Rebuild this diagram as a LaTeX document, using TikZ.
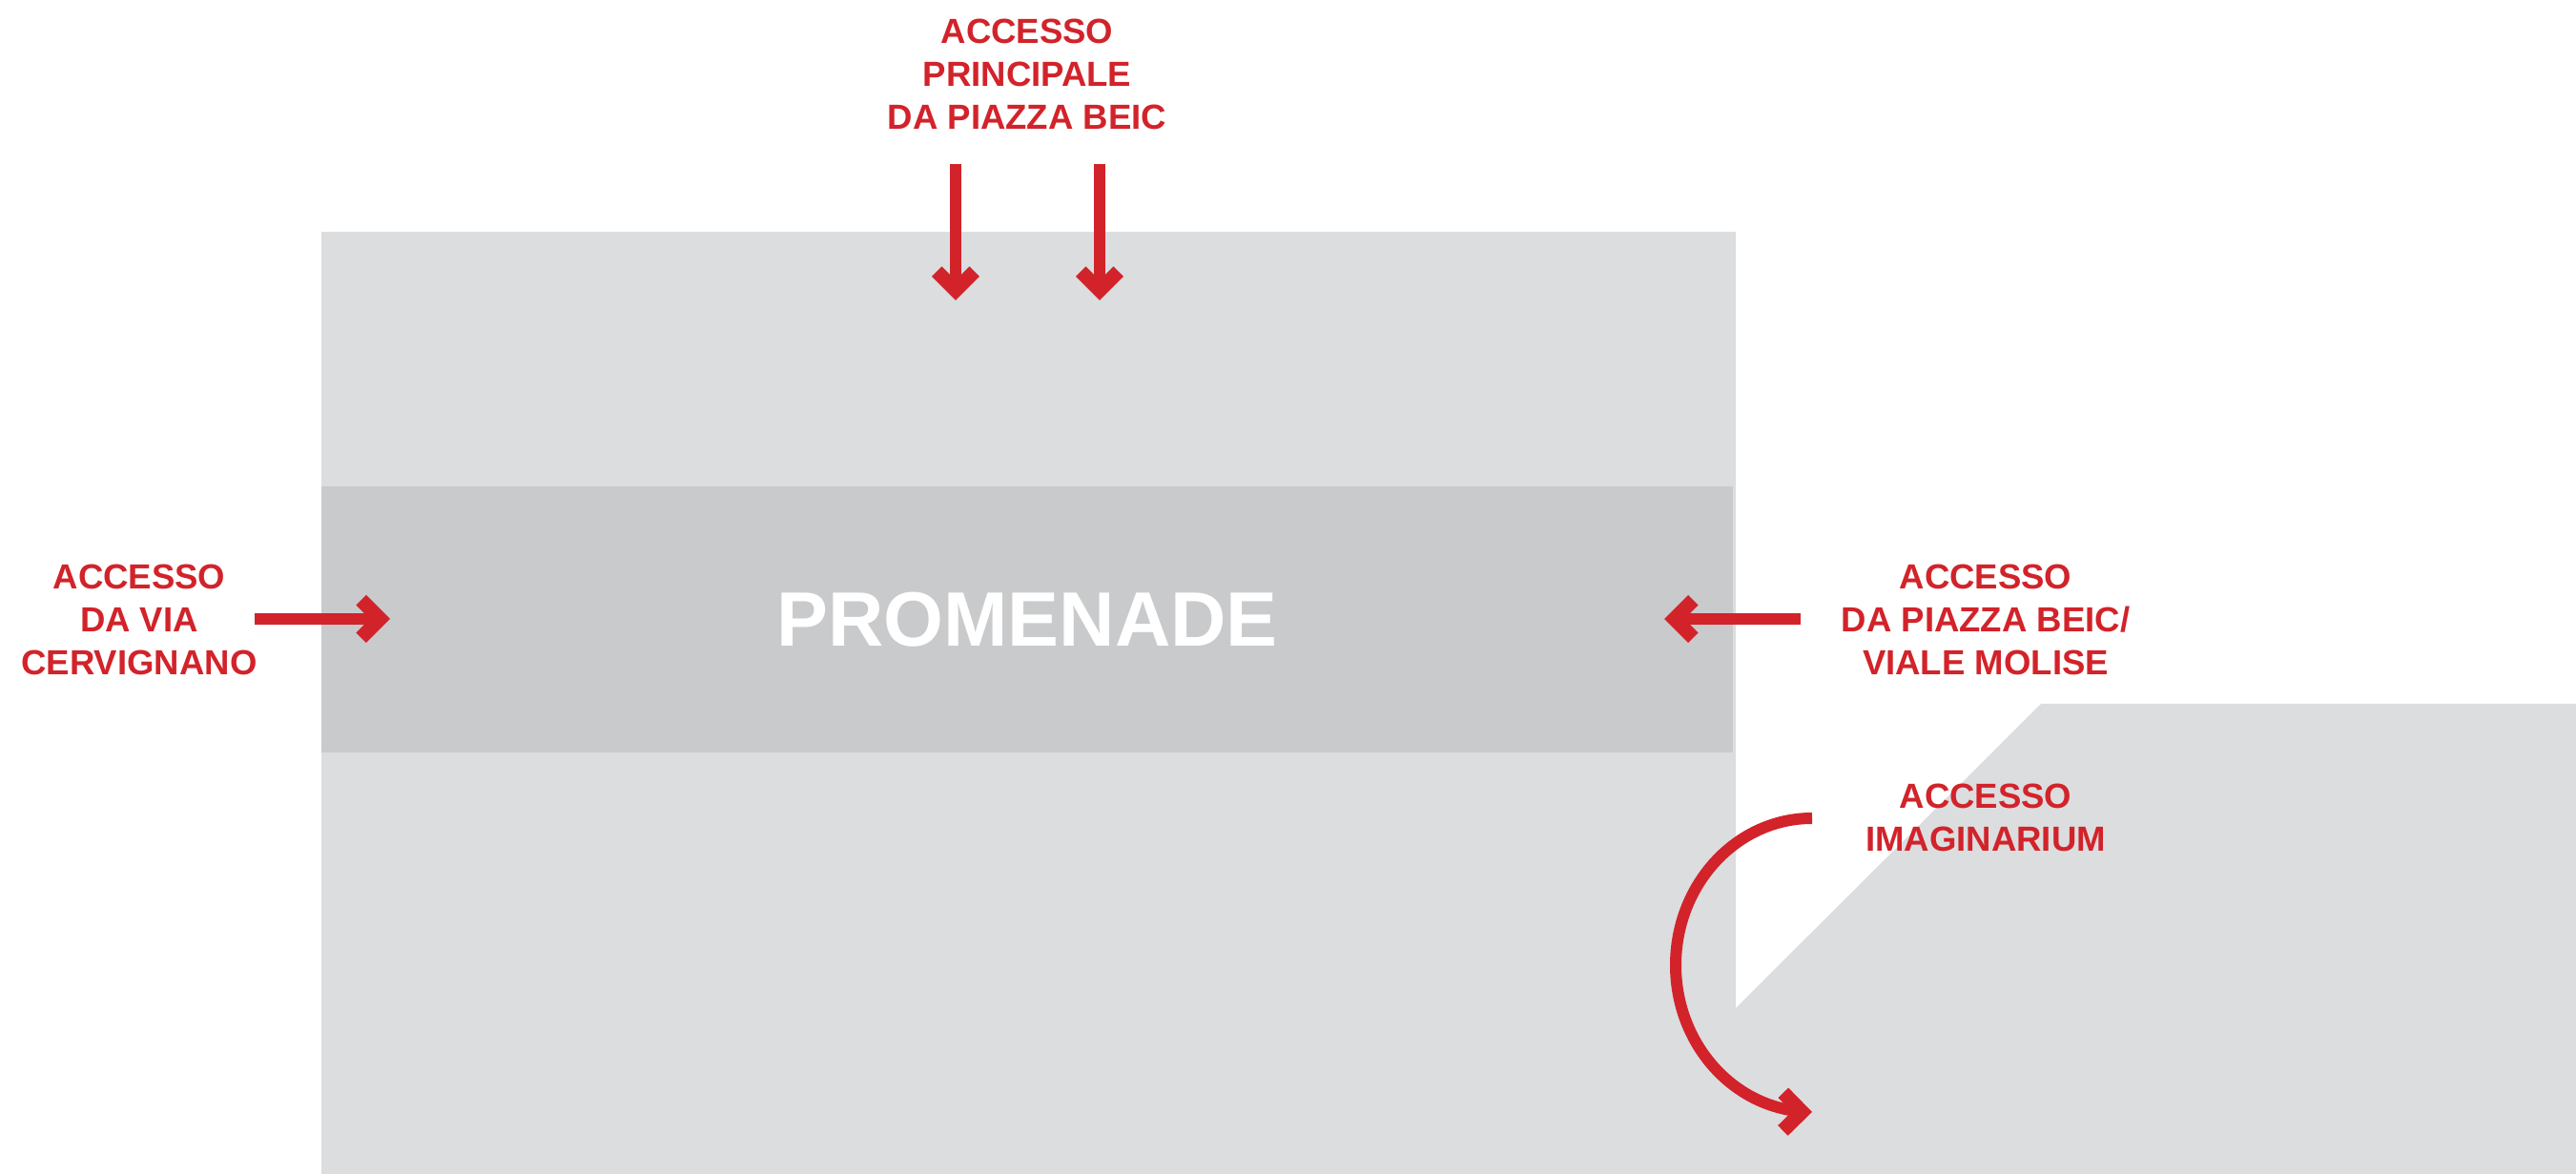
\documentclass[tikz,border=0pt]{standalone}
\usepackage{fontspec}
\setmainfont{Liberation Sans}
\usetikzlibrary{arrows.meta, bending}
\definecolor{areaGray}{HTML}{DCDDDF}
\definecolor{bandGray}{HTML}{C9CACC}
\definecolor{accessRed}{HTML}{D2232A}
\tikzset{%
  >={Straight Barb[angle=90:2.8mm, line width=1.5mm]},
  % Specifications for style of areas and labels:
         area/.style = {fill=areaGray, draw=none},
         band/.style = {fill=bandGray, draw=none},
   accessText/.style = {text=accessRed, align=center, inner sep=0pt,
                        font=\bfseries\fontsize{10.4}{12.8}\selectfont},
    promenade/.style = {text=white, inner sep=0pt,
                        font=\bfseries\fontsize{23}{26}\selectfont},
  accessArrow/.style = {->, draw=accessRed, line width=1.2mm},
}

\begin{document}
\begin{tikzpicture}
  \useasboundingbox (0,0) rectangle (27.01,-12.31);

  % Areas of the plan
  \fill[area] (18.20,-10.57) -- (21.40,-7.38) -- (27.01,-7.38)
              -- (27.01,-12.31) -- (18.20,-12.31) -- cycle;
  \fill[area] (3.37,-2.43) rectangle (18.20,-12.31);
  \fill[band] (3.37,-5.10) rectangle (18.17,-7.89);

  \node (promenadeText) [promenade] at (10.77,-6.50) {PROMENADE};

  % Labels of the accesses
  \node (mainText)      [accessText] at (10.77,-0.78)
                        {ACCESSO\\PRINCIPALE\\DA PIAZZA BEIC};
  \node (cervignanoText)[accessText] at (1.46,-6.50)
                        {ACCESSO\\DA VIA\\CERVIGNANO};
  \node (moliseText)    [accessText] at (20.82,-6.50)
                        {ACCESSO\\DA PIAZZA BEIC/\\VIALE MOLISE};
  \node (imagText)      [accessText] at (20.82,-8.57)
                        {ACCESSO\\IMAGINARIUM};

  % Start and end points of the arrows
  \coordinate (mainLeftStart)   at (10.02,-1.72);
  \coordinate (mainLeftEnd)     at (10.02,-3.15);
  \coordinate (mainRightStart)  at (11.53,-1.72);
  \coordinate (mainRightEnd)    at (11.53,-3.15);
  \coordinate (cervignanoStart) at (2.67,-6.49);
  \coordinate (cervignanoEnd)   at (4.09,-6.49);
  \coordinate (moliseStart)     at (18.88,-6.49);
  \coordinate (moliseEnd)       at (17.45,-6.49);
  \coordinate (imagStart)       at (19.00,-8.58);

  \draw[accessArrow]   (mainLeftStart) -- (mainLeftEnd);
  \draw[accessArrow]  (mainRightStart) -- (mainRightEnd);
  \draw[accessArrow] (cervignanoStart) -- (cervignanoEnd);
  \draw[accessArrow]     (moliseStart) -- (moliseEnd);
  \draw[accessArrow]       (imagStart) arc[start angle=90, end angle=270,
                                           x radius=1.43, y radius=1.54];
\end{tikzpicture}
\end{document}
